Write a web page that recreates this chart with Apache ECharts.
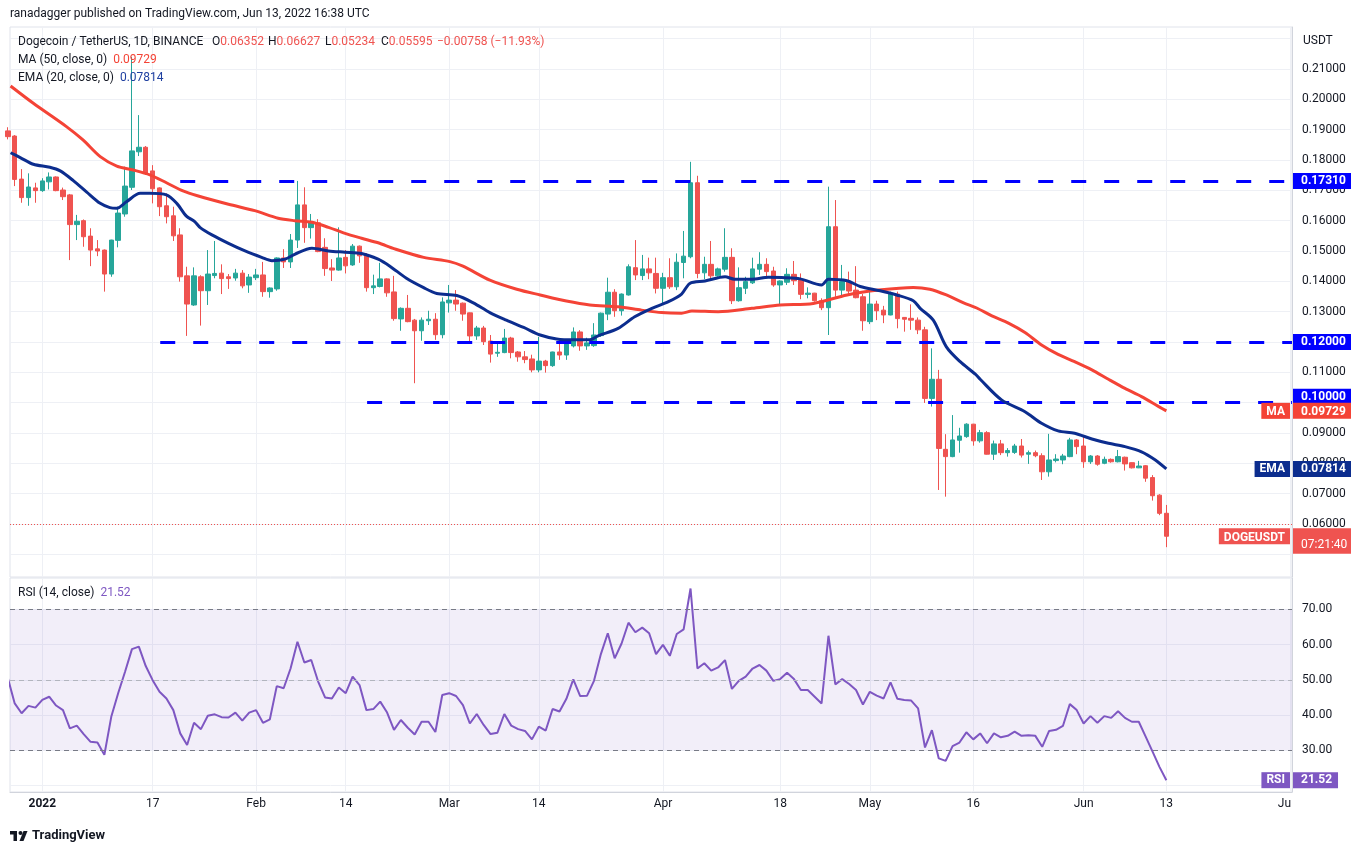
<!DOCTYPE html>
<html><head><meta charset="utf-8">
<script src="https://cdn.jsdelivr.net/npm/echarts@6/dist/echarts.min.js"></script>
<style>html,body{margin:0;padding:0;background:#fff}#c{width:1370px;height:855px}</style>
</head><body><div id="c"></div>
<script>
// ---- data ----
const firstDay = -5; // first candle = 27 Dec 2021, days counted from 1 Jan 2022
// [open, high, low, close]
const candles = [
[0.1896,0.1908,0.1868,0.1877],[0.1879,0.1882,0.1714,0.1736],[0.1737,0.1770,0.1659,0.1676],[0.1676,0.1756,0.1649,0.1711],[0.1708,0.1725,0.1659,0.1699],
[0.1699,0.1740,0.1695,0.1731],[0.1728,0.1759,0.1703,0.1744],[0.1744,0.1746,0.1697,0.1699],[0.1701,0.1709,0.1668,0.1679],[0.1685,0.1688,0.1470,0.1587],
[0.1587,0.1619,0.1536,0.1598],[0.1600,0.1604,0.1514,0.1547],[0.1549,0.1575,0.1450,0.1503],[0.1507,0.1536,0.1483,0.1500],[0.1503,0.1505,0.1366,0.1424],
[0.1424,0.1537,0.1415,0.1536],[0.1535,0.1646,0.1512,0.1625],[0.1622,0.1778,0.1613,0.1714],[0.1710,0.2140,0.1701,0.1830],[0.1827,0.1948,0.1813,0.1842],
[0.1842,0.1846,0.1751,0.1756],[0.1764,0.1783,0.1657,0.1705],[0.1708,0.1710,0.1615,0.1646],[0.1649,0.1690,0.1591,0.1613],[0.1616,0.1646,0.1533,0.1550],
[0.1553,0.1575,0.1399,0.1415],[0.1418,0.1448,0.1220,0.1325],[0.1322,0.1446,0.1319,0.1418],[0.1415,0.1420,0.1254,0.1369],[0.1369,0.1503,0.1322,0.1424],
[0.1419,0.1533,0.1410,0.1426],[0.1427,0.1456,0.1358,0.1409],[0.1415,0.1424,0.1375,0.1409],[0.1411,0.1441,0.1402,0.1427],[0.1427,0.1437,0.1377,0.1385],
[0.1388,0.1424,0.1362,0.1414],
[0.1412,0.1441,0.1404,0.1421],[0.1421,0.1464,0.1349,0.1366],[0.1366,0.1380,0.1346,0.1378],[0.1375,0.1479,0.1369,0.1477],[0.1477,0.1506,0.1444,0.1464],
[0.1464,0.1556,0.1444,0.1536],[0.1536,0.1731,0.1510,0.1652],[0.1652,0.1710,0.1527,0.1577],[0.1577,0.1622,0.1541,0.1593],[0.1593,0.1605,0.1496,0.1498],
[0.1512,0.1542,0.1418,0.1442],[0.1444,0.1473,0.1401,0.1437],[0.1437,0.1578,0.1435,0.1477],[0.1479,0.1503,0.1426,0.1451],[0.1454,0.1523,0.1451,0.1516],
[0.1516,0.1518,0.1461,0.1484],[0.1488,0.1493,0.1366,0.1379],[0.1379,0.1422,0.1358,0.1385],[0.1383,0.1461,0.1380,0.1408],[0.1408,0.1410,0.1349,0.1362],
[0.1365,0.1418,0.1270,0.1277],[0.1276,0.1314,0.1237,0.1311],[0.1311,0.1355,0.1265,0.1267],[0.1272,0.1276,0.1064,0.1237],[0.1237,0.1281,0.1204,0.1272],
[0.1270,0.1303,0.1256,0.1275],[0.1275,0.1295,0.1207,0.1224],[0.1224,0.1347,0.1212,0.1332],
[0.1329,0.1388,0.1297,0.1338],[0.1338,0.1371,0.1303,0.1325],[0.1328,0.1330,0.1270,0.1292],[0.1296,0.1297,0.1198,0.1220],[0.1220,0.1253,0.1207,0.1246],
[0.1246,0.1253,0.1190,0.1201],[0.1203,0.1223,0.1132,0.1160],[0.1163,0.1196,0.1151,0.1166],[0.1165,0.1243,0.1163,0.1213],[0.1213,0.1217,0.1146,0.1165],
[0.1167,0.1170,0.1135,0.1151],[0.1151,0.1170,0.1130,0.1142],[0.1144,0.1158,0.1100,0.1108],[0.1108,0.1217,0.1100,0.1137],[0.1137,0.1141,0.1099,0.1122],
[0.1122,0.1168,0.1118,0.1167],[0.1167,0.1196,0.1141,0.1157],[0.1157,0.1201,0.1141,0.1193],[0.1187,0.1248,0.1182,0.1233],[0.1233,0.1239,0.1171,0.1187],
[0.1187,0.1214,0.1174,0.1197],[0.1188,0.1262,0.1184,0.1223],[0.1221,0.1297,0.1217,0.1295],[0.1292,0.1412,0.1272,0.1364],[0.1364,0.1374,0.1283,0.1303],
[0.1303,0.1360,0.1287,0.1358],[0.1355,0.1456,0.1353,0.1448],[0.1445,0.1536,0.1404,0.1421],[0.1419,0.1487,0.1404,0.1441],[0.1441,0.1478,0.1407,0.1428],
[0.1426,0.1478,0.1360,0.1377],
[0.1377,0.1428,0.1328,0.1412],[0.1412,0.1476,0.1375,0.1382],[0.1382,0.1492,0.1371,0.1463],[0.1462,0.1566,0.1410,0.1483],[0.1481,0.1794,0.1476,0.1725],
[0.1725,0.1748,0.1410,0.1426],[0.1428,0.1481,0.1407,0.1456],[0.1456,0.1533,0.1404,0.1418],[0.1418,0.1445,0.1415,0.1441],[0.1440,0.1575,0.1432,0.1479],
[0.1479,0.1509,0.1325,0.1336],[0.1336,0.1446,0.1333,0.1379],[0.1377,0.1415,0.1358,0.1399],[0.1395,0.1478,0.1391,0.1441],[0.1440,0.1496,0.1421,0.1456],
[0.1456,0.1476,0.1410,0.1432],[0.1434,0.1448,0.1382,0.1388],[0.1388,0.1403,0.1325,0.1401],[0.1397,0.1443,0.1388,0.1423],[0.1423,0.1467,0.1388,0.1402],
[0.1404,0.1426,0.1341,0.1357],[0.1357,0.1380,0.1344,0.1361],[0.1361,0.1362,0.1333,0.1336],[0.1336,0.1344,0.1305,0.1313],[0.1313,0.1712,0.1223,0.1580],
[0.1580,0.1668,0.1349,0.1371],[0.1371,0.1454,0.1347,0.1399],[0.1399,0.1432,0.1355,0.1368],[0.1371,0.1450,0.1344,0.1346],[0.1349,0.1358,0.1237,0.1270],
[0.1267,0.1366,0.1259,0.1325],[0.1325,0.1336,0.1272,0.1303],[0.1305,0.1319,0.1262,0.1289],[0.1289,0.1366,0.1288,0.1358],[0.1358,0.1366,0.1245,0.1277],
[0.1281,0.1282,0.1234,0.1275],[0.1278,0.1324,0.1240,0.1272],[0.1272,0.1281,0.1226,0.1240],[0.1240,0.1250,0.0999,0.1014],[0.1014,0.1179,0.0987,0.1077],
[0.1077,0.1108,0.0712,0.0849],[0.0846,0.0896,0.0690,0.0822],[0.0822,0.0959,0.0820,0.0877],[0.0876,0.0917,0.0835,0.0890],[0.0888,0.0932,0.0884,0.0929],
[0.0929,0.0930,0.0858,0.0874],[0.0874,0.0910,0.0868,0.0901],[0.0901,0.0906,0.0829,0.0830],[0.0830,0.0875,0.0811,0.0864],[0.0864,0.0877,0.0827,0.0835],
[0.0835,0.0850,0.0822,0.0842],[0.0836,0.0864,0.0831,0.0857],[0.0857,0.0880,0.0819,0.0827],[0.0830,0.0842,0.0798,0.0835],[0.0835,0.0842,0.0820,0.0825],
[0.0825,0.0833,0.0745,0.0772],[0.0772,0.0897,0.0756,0.0811],[0.0809,0.0830,0.0803,0.0814],[0.0811,0.0831,0.0797,0.0824],[0.0822,0.0884,0.0820,0.0877],
[0.0877,0.0880,0.0830,0.0855],
[0.0857,0.0893,0.0785,0.0805],[0.0805,0.0827,0.0798,0.0824],[0.0824,0.0827,0.0792,0.0797],[0.0800,0.0822,0.0797,0.0813],[0.0813,0.0816,0.0802,0.0805],
[0.0805,0.0844,0.0803,0.0822],[0.0820,0.0822,0.0776,0.0798],[0.0802,0.0803,0.0783,0.0785],[0.0785,0.0808,0.0784,0.0791],[0.0792,0.0794,0.0739,0.0751],
[0.0753,0.0761,0.0677,0.0693],[0.0695,0.0698,0.0629,0.0635],[0.06352,0.06627,0.05234,0.05595]
];
// RSI(14), one value per candle
const rsi = [
50.5,43.3,40.5,42.6,42.1,
44.3,45.2,42.7,41.4,36.2,37.0,34.6,32.4,32.2,28.7,
39.5,46.2,52.3,58.7,59.4,53.9,49.9,46.6,44.7,41.4,
34.8,31.5,37.8,36.0,39.8,40.2,39.4,39.3,40.7,38.4,40.7,
41.4,37.8,38.8,48.2,47.6,53.2,60.8,54.9,55.6,49.5,
45.0,44.7,47.8,46.2,50.9,48.5,41.4,41.7,43.8,40.7,
35.8,38.6,36.4,34.5,38.1,38.1,35.2,45.7,
46.2,45.4,42.8,37.6,40.3,37.2,34.6,35.0,40.3,37.0,
36.0,35.5,33.1,36.7,35.6,41.7,41.0,44.6,50.1,45.4,
45.5,49.7,57.3,63.2,56.1,60.3,66.2,63.5,64.8,63.2,57.3,
59.9,56.8,63.0,64.3,75.9,53.2,54.7,52.6,53.5,55.6,
47.4,49.7,50.9,53.2,54.2,52.6,49.7,50.2,52.0,50.2,
47.1,47.1,45.2,43.3,62.5,48.7,50.2,48.8,47.1,43.0,
46.6,45.5,44.7,49.3,44.6,44.3,44.1,41.9,30.8,35.7,
27.7,27.0,31.2,32.2,35.1,33.1,34.8,32.0,34.8,33.7,
34.1,35.3,34.1,34.3,34.1,31.0,35.5,35.8,36.9,43.1,41.4,
37.6,39.7,37.8,39.7,39.2,41.1,39.2,38.1,38.1,33.9,29.6,25.3,21.52
];
// MA(50) line read at points along the curve: [day, value]
const ma50 = [
[-4.6,0.2044],[-1.3,0.1987],[3.5,0.1910],[5.9,0.1866],[8.4,0.1811],[10.8,0.1780],[13.2,0.1767],[15.6,0.1751],[18.0,0.1725],[20.4,0.1698],
[22.5,0.1682],[27.0,0.1654],[30.8,0.1633],[34.2,0.1608],[36.6,0.1600],[39.1,0.1595],[41.5,0.1578],[43.9,0.1558],[46.3,0.1542],[48.7,0.1527],
[51.1,0.1507],[55.3,0.1479],[59.1,0.1465],[61.0,0.1450],[64.9,0.1404],[68.8,0.1374],[72.2,0.1355],[76.0,0.1335],[79.4,0.1322],[83.5,0.1316],
[86.9,0.1305],[89.8,0.1297],[92.7,0.1295],[94.2,0.1302],[98.0,0.1300],[102.9,0.1311],[107.0,0.1322],[111.8,0.1327],[116.7,0.1355],[121.3,0.1371],
[126.3,0.1380],[128.7,0.1374],[131.1,0.1355],[133.6,0.1329],[135.5,0.1312],[137.7,0.1286],[140.1,0.1262],[142.5,0.1231],[144.9,0.1190],[147.3,0.1159],
[149.7,0.1135],[152.2,0.1108],[154.6,0.1077],[157.0,0.1047],[159.4,0.1020],[161.9,0.0987],[163,0.09729]
];
// EMA(20) line read at points along the curve: [day, value]
const ema20 = [
[-4.6,0.1824],[-3.2,0.1808],[-1.3,0.1786],[1.1,0.1776],[2.6,0.1764],[4.5,0.1732],[6.4,0.1695],[8.4,0.1657],[9.8,0.1643],[10.8,0.1641],
[12.2,0.1662],[14.2,0.1690],[15.6,0.1690],[18.0,0.1685],[19.5,0.1657],[20.9,0.1615],[22.1,0.1597],[22.9,0.1577],[24.6,0.1553],[27.0,0.1525],
[29.4,0.1500],[31.8,0.1479],[33.3,0.1468],[35.2,0.1473],[36.6,0.1489],[39.1,0.1509],[41.5,0.1500],[43.9,0.1496],[46.3,0.1492],[48.7,0.1473],
[50.4,0.1450],[52.8,0.1410],[55.3,0.1379],[57.2,0.1360],[60.1,0.1353],[62.5,0.1329],[64.9,0.1297],[67.3,0.1272],[69.8,0.1248],[72.2,0.1223],
[74.6,0.1210],[77.0,0.1207],[79.4,0.1207],[80.6,0.1220],[83.5,0.1245],[85.9,0.1283],[88.4,0.1311],[90.8,0.1333],[92.7,0.1358],[93.9,0.1393],
[96.1,0.1401],[99.0,0.1415],[100.4,0.1407],[102.9,0.1407],[105.3,0.1413],[107.7,0.1412],[109.9,0.1408],[113.0,0.1388],[114.0,0.1407],[116.7,0.1402],
[118.6,0.1383],[121.5,0.1369],[123.9,0.1355],[126.3,0.1336],[127.3,0.1311],[129.2,0.1272],[131.1,0.1184],[133.1,0.1135],[135.3,0.1094],[136.0,0.1077],
[139.1,0.1009],[142.5,0.0970],[144.9,0.0932],[147.3,0.0907],[149.7,0.0899],[152.2,0.0880],[154.6,0.0866],[157.0,0.0855],[159.4,0.0838],[161.4,0.0811],
[163,0.07814]
];
// horizontal levels: [start day, price]
const levels = [[20.0,0.1731],[17.1,0.12],[47.1,0.10]];
const lastOpen = 0.06352, lastHigh = 0.06627, lastLow = 0.05234, lastClose = 0.05595;
const changeText = '\u22120.00758 (\u221211.93%)';
const maLast = 0.09729, emaLast = 0.07814, rsiLast = 21.52;
const countdown = '07:21:40';
const timeTickDays = [0,16,31,44,59,72,90,107,120,135,151,163,181];
const timeTickLabels = ['2022','17','Feb','14','Mar','14','Apr','18','May','16','Jun','13','Ju'];
const priceTicks = [0.06,0.07,0.08,0.09,0.10,0.11,0.12,0.13,0.14,0.15,0.16,0.17,0.18,0.19,0.20,0.21];
const priceGrid = [0.05,0.06,0.07,0.08,0.09,0.10,0.11,0.12,0.13,0.14,0.15,0.16,0.17,0.18,0.19,0.20,0.21,0.22];
const rsiTicks = [30,40,50,60,70];
const rsiGrid = [20,30,40,50,60,70];

// ---- chart ----
const xMin = -4.684, xMax = 181.22;
const pMin = 0.04251, pMax = 0.22385;
const rMin = 18.17, rMax = 78.88;
const RED = '#ef5350', GREEN = '#26a69a', MA_C = '#f44336', EMA_C = '#0c2d8e', LVL = '#0000ff', PUR = '#7e57c2', TXT = '#131722';
const FONT = 'Roboto';
const HF = 12;

const candleData = candles.map((c, i) => [firstDay + i, c[0], c[3], c[2], c[1]]);
const rsiData = rsi.map((v, i) => [firstDay + i, v]);

const chart = echarts.init(document.getElementById('c'));

function blankY(g, mn, mx, extra) {
  return Object.assign({gridIndex: g, type: 'value', position: 'right', min: mn, max: mx, z: 6,
    axisLine: {show: false, onZero: false}, axisTick: {show: false}, splitLine: {show: false}}, extra);
}
const badge = (bg, pad, lh, w, bold) => ({backgroundColor: bg, color: '#fff', fontWeight: bold ? 'bold' : 'normal',
  fontSize: 12, fontFamily: FONT, lineHeight: lh, padding: pad, width: w, align: 'left'});
const kv = (k, v, vc) => ({text: '{k|' + k + '}{v|' + v + '}', verticalAlign: 'middle',
  rich: {k: {fill: TXT, fontSize: HF, fontFamily: FONT}, v: {fill: vc, fontSize: HF, fontFamily: FONT}}});
// the lowest level badge is pushed up above the MA badge, as on the reference scale
const upperLevels = levels.slice(0, 2).map(l => l[1]);
const lowerLevels = levels.slice(2).map(l => l[1]);

const option = {
  animation: false,
  textStyle: {fontFamily: FONT},
  grid: [
    {left: 10, top: 27, width: 1282, height: 550, show: true, borderColor: '#e0e3eb', borderWidth: 1, outerBoundsMode: 'none'},
    {left: 10, top: 578, width: 1282, height: 214, show: true, borderColor: '#e0e3eb', borderWidth: 1, outerBoundsMode: 'none'}
  ],
  xAxis: [
    {gridIndex: 0, type: 'value', min: xMin, max: xMax, axisLine: {show: false, onZero: false},
      axisTick: {show: false, customValues: timeTickDays}, axisLabel: {show: false},
      splitLine: {show: true, lineStyle: {color: '#eef0f5'}}},
    {gridIndex: 1, type: 'value', min: xMin, max: xMax, axisLine: {show: true, onZero: false, lineStyle: {color: '#d1d4dc'}},
      axisTick: {show: false, customValues: timeTickDays},
      axisLabel: {customValues: timeTickDays, margin: 6, color: TXT, fontSize: 12,
        formatter: v => {
          const i = timeTickDays.indexOf(Math.round(v));
          const t = i >= 0 ? timeTickLabels[i] : '';
          if (t === '2022') return '{y|2022}';
          if (i === timeTickDays.length - 1) return '{j|' + t + '}';
          return t;
        },
        rich: {y: {fontWeight: 'bold', fontSize: 12, color: TXT}, j: {fontSize: 12, color: TXT, padding: [0, 12, 0, 0]}}},
      splitLine: {show: true, lineStyle: {color: '#eef0f5'}}}
  ],
  yAxis: [
    {gridIndex: 0, type: 'value', position: 'right', min: pMin, max: pMax,
      axisLine: {show: true, onZero: false, lineStyle: {color: '#d1d4dc'}},
      axisTick: {show: false, customValues: priceGrid},
      axisLabel: {customValues: priceTicks, formatter: v => v.toFixed(5), margin: 10, color: TXT, fontSize: 12},
      splitLine: {show: true, lineStyle: {color: '#eef0f5'}}},
    {gridIndex: 1, type: 'value', position: 'right', min: rMin, max: rMax,
      axisLine: {show: true, onZero: false, lineStyle: {color: '#d1d4dc'}},
      axisTick: {show: false, customValues: rsiGrid},
      axisLabel: {customValues: rsiTicks, formatter: v => v.toFixed(2), margin: 10, color: TXT, fontSize: 12},
      splitLine: {show: true, lineStyle: {color: '#eef0f5'}}},
    blankY(0, pMin, pMax, {axisLabel: {customValues: upperLevels, margin: 1,
      formatter: v => '{b|' + v.toFixed(5) + '}', rich: {b: badge(LVL, [2, 4, 2, 8], 12, 46, true)}}}),
    blankY(0, pMin, pMax, {axisLabel: {customValues: lowerLevels, margin: 1, verticalAlign: 'bottom',
      formatter: v => '{b|' + v.toFixed(5) + '}', rich: {b: badge(LVL, [2, 4, 2, 8], 12, 46, true)}}}),
    blankY(0, pMin, pMax, {axisLabel: {customValues: [maLast, emaLast, lastClose], margin: 1,
      formatter: v => v === maLast ? '{m|' + v.toFixed(5) + '}' : v === emaLast ? '{e|' + v.toFixed(5) + '}' : '{p|' + v.toFixed(5) + '}',
      rich: {m: badge(MA_C, [3, 4, 1, 8], 12, 46, true), e: badge(EMA_C, [2, 4, 2, 8], 12, 46, true), p: badge(RED, [4, 4, 0, 8], 14, 46, true)}}}),
    blankY(0, pMin, pMax, {axisLabel: {customValues: [lastClose], margin: 1, verticalAlign: 'top',
      formatter: () => '{t|' + countdown + '}', rich: {t: badge(RED, [8, 4, 3, 8], 12, 46, false)}}}),
    blankY(0, pMin, pMax, {axisLabel: {customValues: [maLast, emaLast, lastClose], inside: true, margin: 2,
      formatter: v => v === maLast ? '{m|MA}' : v === emaLast ? '{e|EMA}' : '{p|DOGEUSDT}',
      rich: {m: badge(MA_C, [3, 5, 1, 5], 12, null, true), e: badge(EMA_C, [2, 5, 2, 5], 12, null, true), p: badge(RED, [4, 5, 0, 5], 14, null, true)}}}),
    blankY(1, rMin, rMax, {axisLabel: {customValues: [rsiLast], margin: 1,
      formatter: v => '{r|' + v.toFixed(2) + '}', rich: {r: badge(PUR, [2, 6, 2, 8], 12, null, true)}}}),
    blankY(1, rMin, rMax, {axisLabel: {customValues: [rsiLast], inside: true, margin: 2,
      formatter: () => '{r|RSI}', rich: {r: badge(PUR, [2, 5, 2, 5], 12, null, true)}}})
  ],
  series: [
    {type: 'candlestick', name: 'DOGEUSDT', xAxisIndex: 0, yAxisIndex: 0, data: candleData, barWidth: 5, clip: true, z: 2,
      itemStyle: {color: GREEN, color0: RED, borderColor: GREEN, borderColor0: RED, borderWidth: 1}},
    {type: 'line', name: 'MA', xAxisIndex: 0, yAxisIndex: 0, data: ma50, smooth: 0.3, showSymbol: false, clip: true, z: 4,
      lineStyle: {color: MA_C, width: 3},
      markLine: {silent: true, symbol: ['none', 'none'], label: {show: false}, emphasis: {disabled: true},
        lineStyle: {color: LVL, width: 3, type: [15, 18]},
        data: levels.map(l => [{coord: [l[0], l[1]]}, {coord: [xMax, l[1]]}]).concat([
          {yAxis: lastClose, lineStyle: {color: RED, width: 1, type: [1, 2]}}
        ])}},
    {type: 'line', name: 'EMA', xAxisIndex: 0, yAxisIndex: 0, data: ema20, smooth: 0.3, showSymbol: false, clip: true, z: 5,
      lineStyle: {color: EMA_C, width: 3}},
    {type: 'line', name: 'RSI', xAxisIndex: 1, yAxisIndex: 1, data: rsiData, showSymbol: false, clip: true, z: 4,
      lineStyle: {color: PUR, width: 2},
      markArea: {silent: true, itemStyle: {color: 'rgba(126,87,194,0.1)'}, data: [[{yAxis: 30}, {yAxis: 70}]]},
      markLine: {silent: true, symbol: ['none', 'none'], label: {show: false}, emphasis: {disabled: true},
        data: [
          {yAxis: 70, lineStyle: {color: '#787b86', width: 1, type: [5, 4]}},
          {yAxis: 50, lineStyle: {color: '#b2b5be', width: 1, type: [5, 4]}},
          {yAxis: 30, lineStyle: {color: '#787b86', width: 1, type: [5, 4]}}
        ]}}
  ],
  graphic: [
    {type: 'text', x: 10, y: 14, z: 10, style: {text: 'ranadagger published on TradingView.com, Jun 13, 2022 16:38 UTC', fill: TXT, fontSize: 12, fontFamily: FONT, verticalAlign: 'middle'}},
    {type: 'text', x: 18, y: 42, z: 10, style: {text: 'Dogecoin / TetherUS, 1D, BINANCE', fill: TXT, fontSize: HF, fontFamily: FONT, verticalAlign: 'middle'}},
    {type: 'text', x: 212, y: 42, z: 10, style: kv('O', lastOpen.toFixed(5), RED)},
    {type: 'text', x: 268, y: 42, z: 10, style: kv('H', lastHigh.toFixed(5), RED)},
    {type: 'text', x: 325, y: 42, z: 10, style: kv('L', lastLow.toFixed(5), RED)},
    {type: 'text', x: 381, y: 42, z: 10, style: kv('C', lastClose.toFixed(5), RED)},
    {type: 'text', x: 437, y: 42, z: 10, style: {text: changeText, fill: RED, fontSize: HF, fontFamily: FONT, verticalAlign: 'middle'}},
    {type: 'text', x: 18, y: 60, z: 10, style: kv('MA (50, close, 0)  ', maLast.toFixed(5), MA_C)},
    {type: 'text', x: 18, y: 78, z: 10, style: kv('EMA (20, close, 0)  ', emaLast.toFixed(5), '#1e3fa0')},
    {type: 'text', x: 18, y: 593, z: 10, style: kv('RSI (14, close)  ', rsiLast.toFixed(2), PUR)},
    {type: 'text', x: 1303, y: 41, z: 10, style: {text: 'USDT', fill: TXT, fontSize: 12, fontFamily: FONT, verticalAlign: 'middle'}},
    {type: 'group', z: 10, children: [
      {type: 'rect', shape: {x: 10, y: 831, width: 7, height: 3.5}, style: {fill: TXT}},
      {type: 'rect', shape: {x: 13.5, y: 831, width: 3.5, height: 10}, style: {fill: TXT}},
      {type: 'circle', shape: {cx: 20.5, cy: 833, r: 2}, style: {fill: TXT}},
      {type: 'polygon', shape: {points: [[23.5, 831], [27.5, 831], [23.5, 841], [19.5, 841]]}, style: {fill: TXT}}
    ]},
    {type: 'text', x: 32, y: 836, z: 10, style: {text: 'TradingView', fill: TXT, fontSize: 13, fontWeight: 'bold', fontFamily: FONT, verticalAlign: 'middle'}}
  ]
};
chart.setOption(option);
</script>
</body></html>
